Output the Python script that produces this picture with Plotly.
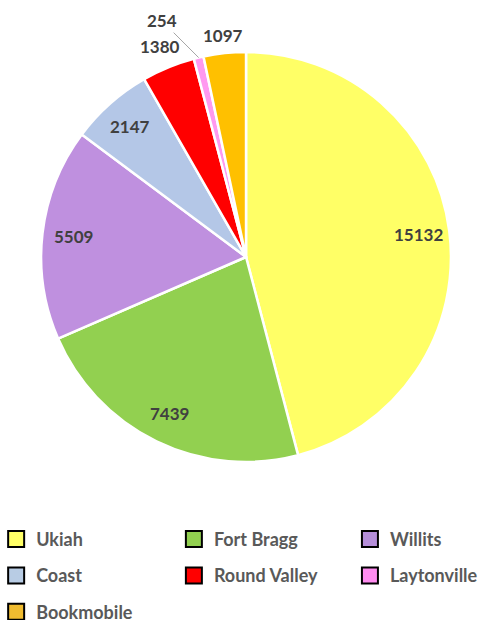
import math
import plotly.graph_objects as go

branches = ["Ukiah", "Fort Bragg", "Willits", "Coast", "Round Valley", "Laytonville", "Bookmobile"]
circulation = [15132, 7439, 5509, 2147, 1380, 254, 1097]
slice_colors = ["#FFFF66", "#92D050", "#BF90DF", "#B4C7E7", "#FF0000", "#FF99F0", "#FFC000"]
legend_colors = ["#FFFF66", "#92D050", "#B58ED9", "#B8CCE4", "#FF0000", "#FF8CF0", "#F0BC30"]
label_mode = ["inside", "inside", "inside", "inside", "outside", "leader", "outside"]
legend_columns = ["legend", "legend2", "legend3", "legend", "legend2", "legend3", "legend"]

W, H = 481, 620
dom_x = [0.085, 0.938]
dom_y = [0.255, 0.916]
label_font = dict(family="Lato", size=17, color="#404040", weight="bold")

fig = go.Figure()
fig.add_trace(go.Pie(
    labels=branches,
    values=circulation,
    sort=False,
    direction="clockwise",
    rotation=0,
    marker=dict(colors=slice_colors, line=dict(color="white", width=2.5)),
    textinfo="none",
    showlegend=False,
    hoverinfo="label+value+percent",
    domain=dict(x=dom_x, y=dom_y),
))

# data labels, positioned from the slice angles computed from the values
total = sum(circulation)
cx = (dom_x[0] + dom_x[1]) / 2
cy = (dom_y[0] + dom_y[1]) / 2
R = min((dom_x[1] - dom_x[0]) * W, (dom_y[1] - dom_y[0]) * H) / 2
cum = 0
for name, v, mode in zip(branches, circulation, label_mode):
    mid = (cum + v / 2) / total
    cum += v
    th = 2 * math.pi * mid
    s, c = math.sin(th), math.cos(th)
    if mode == "inside":
        rr = 0.85 * R
        fig.add_annotation(
            x=cx + rr * s / W, y=cy + rr * c / H,
            xref="paper", yref="paper", text=str(v), showarrow=False,
            font=label_font, xanchor="center", yanchor="middle",
        )
    elif mode == "outside":
        tw, th_ = 9.5 * len(str(v)), 20
        rr = R + 0.5 * (abs(s) * tw + abs(c) * th_) + 6
        fig.add_annotation(
            x=cx + rr * s / W, y=cy + rr * c / H,
            xref="paper", yref="paper", text=str(v), showarrow=False,
            font=label_font, xanchor="center", yanchor="middle",
        )
    else:
        fig.add_annotation(
            x=cx + R * s / W, y=cy + R * c / H,
            xref="paper", yref="paper", text=str(v), showarrow=True,
            arrowhead=0, arrowwidth=1, arrowcolor="#A6A6A6", standoff=0,
            ax=-37, ay=-37, font=label_font,
        )

for name, col, lg in zip(branches, legend_colors, legend_columns):
    fig.add_trace(go.Scatter(
        x=[None], y=[None], mode="markers", name=name,
        marker=dict(symbol="square", size=16, color=col, line=dict(color="black", width=2)),
        legend=lg, legendgroup=name, showlegend=True,
    ))

legend_common = dict(
    orientation="v", traceorder="grouped", tracegroupgap=10,
    font=dict(family="Lato", size=18, color="#595959", weight="bold"),
    bgcolor="rgba(0,0,0,0)", xanchor="left", yanchor="top", itemwidth=30,
)

fig.update_layout(
    width=W, height=H,
    margin=dict(l=0, r=0, t=0, b=0, autoexpand=False),
    paper_bgcolor="white", plot_bgcolor="white",
    xaxis=dict(visible=False), yaxis=dict(visible=False),
    legend=dict(x=-0.008, y=0.16, **legend_common),
    legend2=dict(x=0.3615, y=0.16, **legend_common),
    legend3=dict(x=0.7275, y=0.16, **legend_common),
)

fig.write_html("out.html", config={"displayModeBar": False},
               post_script="document.body.style.margin='0';")
